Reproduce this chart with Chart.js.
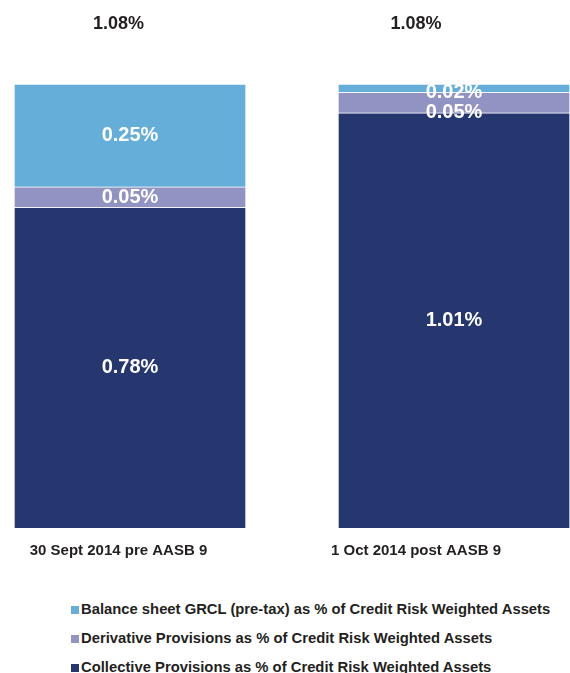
<!DOCTYPE html>
<html>
<head>
<meta charset="utf-8">
<script src="https://cdn.jsdelivr.net/npm/chart.js@4.4.1/dist/chart.umd.min.js"></script>
<style>
  html, body { margin: 0; padding: 0; background: #fff; overflow: hidden; }
  #wrap { position: relative; width: 570px; height: 673px; }
  #chart { position: absolute; left: 0; top: 0; }
  #legend {
    position: absolute; left: 71px; top: 595px;
    font: bold 14.8px "Liberation Sans", Arial, sans-serif; color: #231F20;
  }
  #legend div { height: 29px; line-height: 29px; white-space: nowrap; }
  #legend span {
    display: inline-block; width: 8px; height: 8px; margin-right: 2px;
  }
</style>
</head>
<body>
<div id="wrap">
  <canvas id="chart" width="570" height="580"></canvas>
  <div id="legend"></div>
</div>
<script>
// Chart data
const categories = ["30 Sept 2014 pre AASB 9", "1 Oct 2014 post AASB 9"];
const collective = [0.78, 1.01];
const derivative = [0.05, 0.05];
const balance = [0.25, 0.02];
const seriesNames = [
  "Collective Provisions as % of Credit Risk Weighted Assets",
  "Derivative Provisions as % of Credit Risk Weighted Assets",
  "Balance sheet GRCL (pre-tax) as % of Credit Risk Weighted Assets",
];

const totals = categories.map((c, i) => collective[i] + derivative[i] + balance[i]);
const FONT = '"Liberation Sans", Arial, sans-serif';
const DARK = "#231F20";

// linear axis range so that value 0 lands at firstPx and value 1 at firstPx + stepPx
function axisRange(firstPx, stepPx, width) {
  const min = -firstPx / stepPx;
  return { min: min, max: min + width / stepPx };
}
const barAxis = axisRange(130, 324, 570);
const labelAxis = axisRange(118.5, 297.5, 570);

function points(values) {
  return values.map((v, i) => ({ x: i, y: v }));
}

// segment labels inside the bars, pushed apart when segments are thin
const segmentLabels = {
  id: "segmentLabels",
  afterDatasetsDraw(chart) {
    const ctx = chart.ctx;
    ctx.save();
    ctx.font = "bold 20px " + FONT;
    ctx.fillStyle = "#fff";
    ctx.textAlign = "center";
    ctx.textBaseline = "middle";
    categories.forEach((c, i) => {
      let prev = null;
      for (let d = chart.data.datasets.length - 1; d >= 0; d--) {
        const bar = chart.getDatasetMeta(d).data[i];
        const centre = (bar.y + bar.base) / 2;
        const y = prev === null ? Math.max(centre, bar.y + 8) : Math.max(centre, prev + 20);
        const v = chart.data.datasets[d].data[i].y;
        ctx.fillText(v.toFixed(2) + "%", bar.x, y);
        prev = y;
      }
    });
    ctx.restore();
  },
};

// totals above each bar
const totalLabels = {
  id: "totalLabels",
  afterDatasetsDraw(chart) {
    const ctx = chart.ctx;
    const xs = chart.scales.xCat;
    const ys = chart.scales.y;
    ctx.save();
    ctx.font = "bold 18px " + FONT;
    ctx.fillStyle = DARK;
    ctx.textAlign = "center";
    ctx.textBaseline = "middle";
    totals.forEach((t, i) => {
      ctx.fillText(t.toFixed(2) + "%", xs.getPixelForValue(i), ys.getPixelForValue(t) - 60);
    });
    ctx.restore();
  },
};

const chart = new Chart(document.getElementById("chart"), {
  type: "bar",
  data: {
    datasets: [
      { label: seriesNames[0], data: points(collective), backgroundColor: "#263770" },
      { label: seriesNames[1], data: points(derivative), backgroundColor: "#9193C3" },
      { label: seriesNames[2], data: points(balance), backgroundColor: "#65AEDA" },
    ],
  },
  options: {
    responsive: false,
    animation: false,
    barThickness: 232,
    borderWidth: 1,
    borderColor: "rgba(255,255,255,0.35)",
    layout: { padding: { top: 84, bottom: 6, left: 0, right: 0 } },
    plugins: { legend: { display: false }, tooltip: { enabled: false } },
    scales: {
      x: {
        type: "linear",
        display: false,
        stacked: true,
        offset: false,
        bounds: "data",
        min: barAxis.min,
        max: barAxis.max,
      },
      xCat: {
        type: "linear",
        axis: "x",
        position: "bottom",
        offset: false,
        bounds: "data",
        min: labelAxis.min,
        max: labelAxis.max,
        grid: { display: false, drawTicks: false },
        border: { display: false },
        afterBuildTicks(scale) {
          scale.ticks = categories.map((c, i) => ({ value: i }));
        },
        ticks: {
          padding: 14,
          color: DARK,
          font: { family: FONT, size: 15, weight: "bold" },
          maxRotation: 0,
          autoSkip: false,
          callback: (value) => categories[value],
        },
      },
      y: {
        display: false,
        stacked: true,
        min: 0,
        max: Math.max(...totals),
      },
    },
  },
  plugins: [segmentLabels, totalLabels],
});

// legend, top series first
const legend = document.getElementById("legend");
chart.data.datasets.slice().reverse().forEach((ds) => {
  const row = document.createElement("div");
  const box = document.createElement("span");
  box.style.background = ds.backgroundColor;
  row.appendChild(box);
  row.appendChild(document.createTextNode(ds.label));
  legend.appendChild(row);
});
</script>
</body>
</html>
